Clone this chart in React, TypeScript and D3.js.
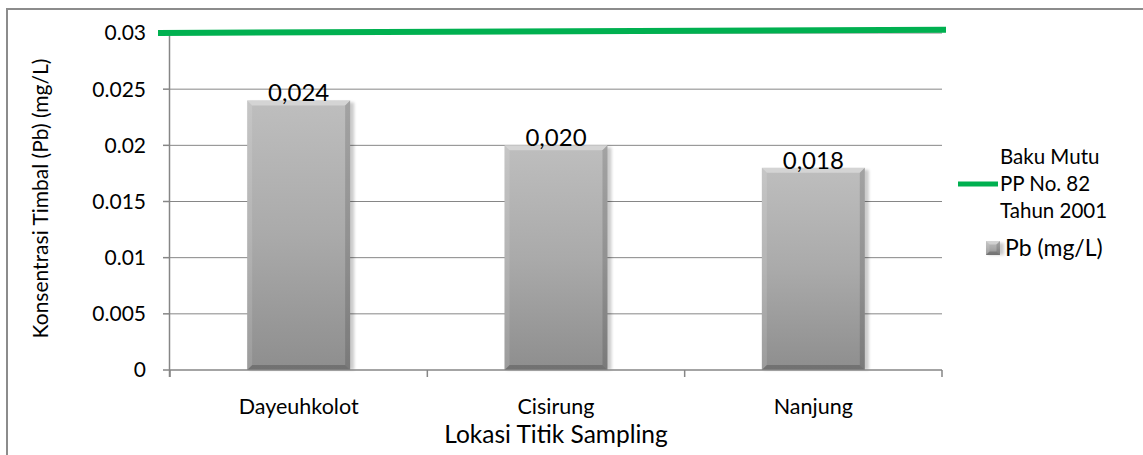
import React from "react";
import * as d3 from "d3";

// Lead (Pb) concentration per sampling location
const locations: string[] = ["Dayeuhkolot", "Cisirung", "Nanjung"];
const pbValues: number[] = [0.024, 0.02, 0.018];
const pbLabels: string[] = ["0,024", "0,020", "0,018"];
// Quality standard line (PP No. 82 Tahun 2001), start and end values
const bakuMutu: number[] = [0.03, 0.0303];
const yTicks: number[] = [0, 0.005, 0.01, 0.015, 0.02, 0.025, 0.03];
const yTickLabels: string[] = ["0", "0.005", "0.01", "0.015", "0.02", "0.025", "0.03"];
const legendLine: string[] = ["Baku Mutu", "PP No. 82", "Tahun 2001"];
const legendBar = "Pb (mg/L)";

const W = 1143;
const H = 455;
const FONT = "Lato, 'Open Sans', sans-serif";
const GRID = "#868686";
const GREEN = "#00b050";

const plot = { left: 170, right: 942, top: 33, bottom: 370 };

function BevelBar({ x, y, w, h, id }: { x: number; y: number; w: number; h: number; id: string }) {
  const b = Math.min(5, w / 4, h / 4);
  return (
    <g>
      <rect x={x + 2} y={y + 2} width={w + 2} height={h - 2} fill="#000" opacity={0.2} filter="url(#barShadow)" />
      <rect x={x} y={y} width={w} height={h} fill={`url(#${id})`} />
      <polygon points={`${x},${y} ${x + w},${y} ${x + w - b},${y + b} ${x + b},${y + b}`} fill="#ffffff" opacity={0.35} />
      <polygon points={`${x},${y} ${x + b},${y + b} ${x + b},${y + h - b} ${x},${y + h}`} fill="#ffffff" opacity={0.12} />
      <polygon points={`${x + w},${y} ${x + w},${y + h} ${x + w - b},${y + h - b} ${x + w - b},${y + b}`} fill="#000000" opacity={0.14} />
      <polygon points={`${x},${y + h} ${x + w},${y + h} ${x + w - b},${y + h - b} ${x + b},${y + h - b}`} fill="#000000" opacity={0.2} />
    </g>
  );
}

export default function App() {
  const x = d3.scaleBand<string>().domain(locations).range([plot.left, plot.right]).padding(0);
  const y = d3.scaleLinear().domain([0, 0.03]).range([plot.bottom, plot.top]);
  const barW = x.bandwidth() / 2.5;

  const lineGen = d3
    .line<number>()
    .x((_, i) => (i === 0 ? plot.left - 12 : plot.right + 4))
    .y((d) => y(d));

  const boundaries = [...locations.map((c) => x(c) as number), plot.right];
  const legendX = 1000;

  return (
    <svg width={W} height={H} style={{ position: "absolute", left: 0, top: 0, background: "#fff" }}>
      <defs>
        <linearGradient id="barGrad" x1="0" y1="0" x2="0" y2="1">
          <stop offset="0" stopColor="#bebebe" />
          <stop offset="0.5" stopColor="#aaaaaa" />
          <stop offset="1" stopColor="#8e8e8e" />
        </linearGradient>
        <filter id="barShadow" x="-20%" y="-20%" width="140%" height="140%">
          <feGaussianBlur stdDeviation="1.5" />
        </filter>
      </defs>

      {/* chart border */}
      <rect x={7} y={9} width={W + 10} height={H + 10} fill="#fff" stroke="#8c8c8c" strokeWidth={2} />

      {/* gridlines */}
      {yTicks.slice(1).map((t) => (
        <line key={t} x1={plot.left} x2={plot.right} y1={y(t)} y2={y(t)} stroke={GRID} strokeWidth={1} />
      ))}

      {/* bars */}
      {locations.map((c, i) => {
        const cx = (x(c) as number) + x.bandwidth() / 2;
        const top = y(pbValues[i]);
        return (
          <g key={c}>
            <BevelBar x={cx - barW / 2} y={top} w={barW} h={plot.bottom - top} id="barGrad" />
            <text x={cx} y={top + 1} textAnchor="middle" fontFamily={FONT} fontSize={24} fill="#000">
              {pbLabels[i]}
            </text>
          </g>
        );
      })}

      {/* axes */}
      <line x1={plot.left - 0.5} x2={plot.left - 0.5} y1={plot.top} y2={plot.bottom + 7} stroke={GRID} strokeWidth={1.5} />
      <line x1={plot.left} x2={plot.right} y1={plot.bottom} y2={plot.bottom} stroke={GRID} strokeWidth={1.5} />
      {yTicks.map((t, i) => (
        <g key={t}>
          <line x1={plot.left - 7} x2={plot.left} y1={y(t)} y2={y(t)} stroke={GRID} strokeWidth={1.5} />
          <text x={plot.left - 24} y={y(t)} dy="0.35em" textAnchor="end" fontFamily={FONT} fontSize={21} fill="#000">
            {yTickLabels[i]}
          </text>
        </g>
      ))}
      {boundaries.map((bx, i) => (
        <line key={i} x1={bx} x2={bx} y1={plot.bottom} y2={plot.bottom + 7} stroke={GRID} strokeWidth={1.5} />
      ))}
      {locations.map((c) => (
        <text key={c} x={(x(c) as number) + x.bandwidth() / 2} y={414} textAnchor="middle" fontFamily={FONT} fontSize={21.5} fill="#000">
          {c}
        </text>
      ))}

      {/* standard line */}
      <path d={lineGen(bakuMutu) || ""} fill="none" stroke={GREEN} strokeWidth={6} />

      {/* axis titles */}
      <text x={(plot.left + plot.right) / 2} y={443} textAnchor="middle" fontFamily={FONT} fontSize={24.5} fill="#000">
        Lokasi Titik Sampling
      </text>
      <text
        transform={`translate(48, ${(plot.top + plot.bottom) / 2 - 3}) rotate(-90)`}
        textAnchor="middle"
        fontFamily={FONT}
        fontSize={21}
        fill="#000"
      >
        Konsentrasi Timbal (Pb) (mg/L)
      </text>

      {/* legend */}
      <line x1={958} x2={998} y1={184} y2={184} stroke={GREEN} strokeWidth={5} />
      {legendLine.map((s, i) => (
        <text key={s} x={legendX} y={157 + i * 27} dy="0.35em" fontFamily={FONT} fontSize={20.5} fill="#000">
          {s}
        </text>
      ))}
      <BevelBar x={986} y={241} w={14} h={14} id="barGrad" />
      <text x={1005} y={248} dy="0.35em" fontFamily={FONT} fontSize={23} fill="#000">
        {legendBar}
      </text>
    </svg>
  );
}
